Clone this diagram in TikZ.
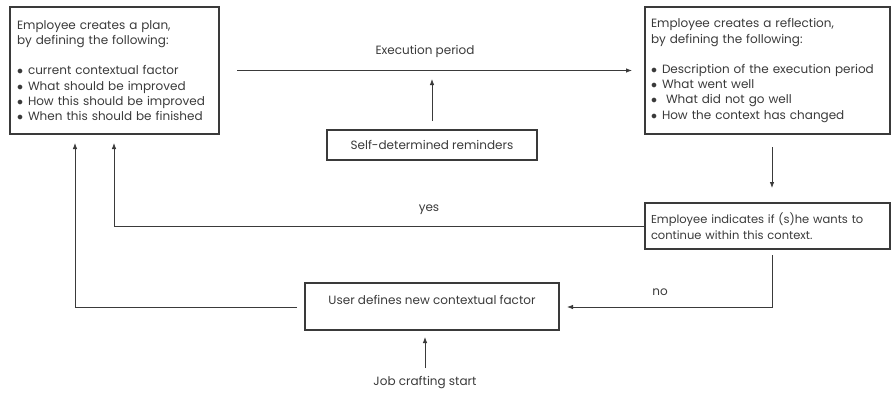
\documentclass[tikz,border=0pt]{standalone}
\usepackage{fontspec}
\setmainfont{Poppins}
\usetikzlibrary{arrows.meta}
\definecolor{ink}{HTML}{3A3A3A}
\tikzset{
  box/.style={draw=ink, line width=1.1pt, rectangle, inner sep=0pt, text=ink,
    font=\fontsize{12}{15.3}\selectfont},
  lbl/.style={text=ink, inner sep=0pt, font=\fontsize{12}{15}\selectfont},
  arr/.style={draw=ink, line width=0.8pt, -{Latex[length=6pt,width=4.5pt]}},
}
\newcommand{\itm}{\makebox[11pt][l]{$\bullet$}}
\begin{document}
\begin{tikzpicture}[x=1pt,y=-1pt]
\useasboundingbox (0,0) rectangle (892,392);
\node[box, minimum width=209pt, minimum height=127pt, text width=195pt, align=left] (plan) at (114.5,70.5)
 {Employee creates a plan,\\by defining the following:\\[15pt]
  \itm current contextual factor\\
  \itm What should be improved\\
  \itm How this should be improved\\
  \itm When this should be finished};
\node[box, minimum width=245pt, minimum height=127pt, text width=233pt, align=left] (refl) at (767.5,70.5)
 {Employee creates a reflection,\\by defining the following:\\[15pt]
  \itm Description of the execution period\\
  \itm What went well\\
  \itm \ What did not go well\\
  \itm How the context has changed};
\node[box, minimum width=210pt, minimum height=30pt] (rem) at (432,145) {Self-determined reminders};
\node[box, minimum width=245pt, minimum height=46pt, text width=233pt, align=left,
  font=\fontsize{11.5}{16}\selectfont] (dec) at (767.5,226)
 {Employee indicates if (s)he wants to\\continue within this context.};
\node[box, minimum width=254pt, inner ysep=5.5pt, text height=16pt, text depth=20pt] (user) at (432,306.5)
 {User defines new contextual factor};
\node[lbl] (exec) at (425,51) {Execution period};
\node[lbl] (yes) at (429,210) {yes};
\node[lbl] (no) at (660,292) {no};
\node[lbl] (start) at (425,383) {Job crafting start};

\coordinate (e1) at (237,70.5);
\coordinate (e2) at (632,70.5);
\draw[arr] (e1) -- (e2);
\coordinate (r1) at (432,121);
\coordinate (r2) at (432,79);
\draw[arr] (r1) -- (r2);
\coordinate (d1) at (772,147);
\coordinate (d2) at (772,188);
\draw[arr] (d1) -- (d2);
\coordinate (y1) at (644,226);
\coordinate (y2) at (114,143);
\draw[arr] (y1) -| (y2);
\coordinate (n1) at (772,255);
\coordinate (n2) at (567,307);
\draw[arr] (n1) |- (n2);
\coordinate (o1) at (297,307);
\coordinate (o2) at (75,143);
\draw[arr] (o1) -| (o2);
\coordinate (s1) at (425,368);
\coordinate (s2) at (425,337);
\draw[arr] (s1) -- (s2);
\end{tikzpicture}
\end{document}
